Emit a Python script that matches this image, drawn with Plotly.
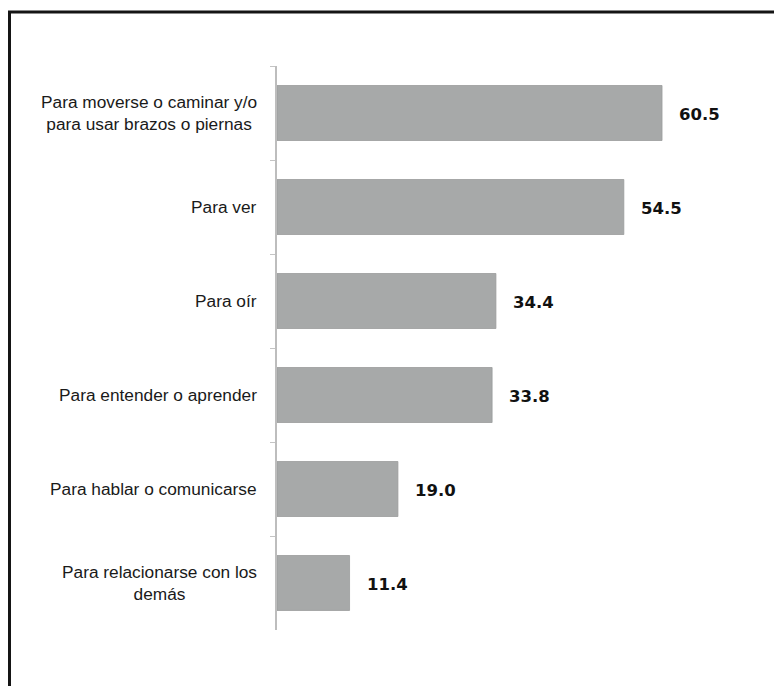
import plotly.graph_objects as go

categories = [
    "Para moverse o caminar y/o<br>para usar brazos o piernas",
    "Para ver",
    "Para oír",
    "Para entender o aprender",
    "Para hablar o comunicarse",
    "Para relacionarse con los<br>demás",
]
values = [60.5, 54.5, 34.4, 33.8, 19.0, 11.4]
value_labels = ["60.5", "54.5", "34.4", "33.8", "19.0", "11.4"]

# the page body has an 8px default margin, so offset layout by -8px
OFF = 8
W, H = 782, 686
ML, MR, MT = 277 - OFF, 20, 66 - OFF
MB = H - (630 - OFF)
plot_w = W - ML - MR
plot_h = H - MT - MB
px_per_unit = 6.364
xmax = plot_w / px_per_unit

fig = go.Figure()
fig.add_trace(go.Bar(
    y=categories, x=values, orientation="h",
    marker=dict(color="#a7a9a9", line=dict(color="#9a9c9c", width=0.8)),
    hoverinfo="skip", showlegend=False,
))

annotations = []
for c, v, t in zip(categories, values, value_labels):
    annotations.append(dict(
        x=v, y=c, xref="x", yref="y", text=t, showarrow=False,
        xanchor="left", yanchor="middle", xshift=15, yshift=-1,
        font=dict(family="DejaVu Sans", size=16.5, color="#111111", weight="bold"),
    ))
    annotations.append(dict(
        x=0, y=c, xref="paper", yref="y", text=c, showarrow=False,
        xanchor="right", yanchor="middle", align="center", xshift=-18,
        font=dict(family="Liberation Sans, Arial, sans-serif", size=17.3, color="#1a1a1a"),
    ))

def px_to_paper_x(px):
    return (px - OFF - ML) / plot_w

def px_to_paper_y(py):
    return (H - MB - (py - OFF)) / plot_h

shapes = [
    dict(type="line", xref="paper", yref="paper",
         x0=px_to_paper_x(9.5), x1=px_to_paper_x(9.5),
         y0=px_to_paper_y(11), y1=px_to_paper_y(720),
         line=dict(color="#151515", width=3)),
    dict(type="line", xref="paper", yref="paper",
         x0=px_to_paper_x(8), x1=px_to_paper_x(800),
         y0=px_to_paper_y(12), y1=px_to_paper_y(12),
         line=dict(color="#151515", width=3)),
]

fig.update_layout(
    width=W, height=H,
    margin=dict(l=ML, r=MR, t=MT, b=MB),
    paper_bgcolor="white", plot_bgcolor="white",
    bargap=0.415,
    annotations=annotations,
    shapes=shapes,
    xaxis=dict(range=[0, xmax], visible=False, showgrid=False, zeroline=False),
    yaxis=dict(autorange="reversed", showticklabels=False, showgrid=False,
               showline=True, linecolor="#bdbdbd", linewidth=1.5,
               ticks="outside", tickson="boundaries", ticklen=5,
               tickcolor="#c4c4c4", tickwidth=1),
)

fig.write_html("out.html")
